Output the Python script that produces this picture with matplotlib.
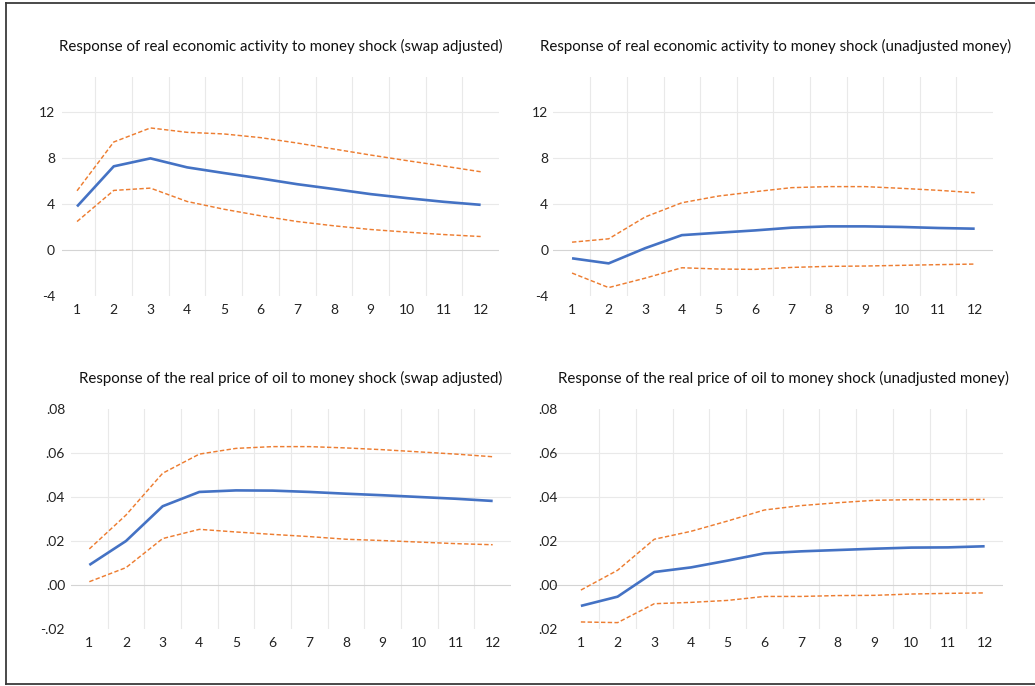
import matplotlib
matplotlib.use("Agg")
import matplotlib.pyplot as plt
import numpy as np
from matplotlib.lines import Line2D

plt.rcParams['font.family'] = ['Lato', 'DejaVu Sans']

# horizon (months)
periods = list(range(1, 13))

# real economic activity, swap adjusted
act_swap_mid = [3.77, 7.25, 7.94, 7.16, 6.67, 6.20, 5.70, 5.28, 4.84, 4.49, 4.17, 3.91]
act_swap_hi = [5.13, 9.36, 10.58, 10.20, 10.06, 9.74, 9.27, 8.75, 8.23, 7.74, 7.27, 6.78]
act_swap_lo = [2.46, 5.16, 5.36, 4.20, 3.53, 2.96, 2.46, 2.09, 1.77, 1.54, 1.33, 1.16]

# real economic activity, unadjusted money
act_unadj_mid = [-0.73, -1.17, 0.15, 1.28, 1.49, 1.69, 1.93, 2.04, 2.04, 1.99, 1.90, 1.84]
act_unadj_hi = [0.67, 0.96, 2.86, 4.09, 4.67, 5.05, 5.40, 5.49, 5.49, 5.34, 5.17, 4.96]
act_unadj_lo = [-2.01, -3.27, -2.45, -1.55, -1.66, -1.69, -1.52, -1.43, -1.40, -1.34, -1.28, -1.23]

# real price of oil, swap adjusted
oil_swap_mid = [0.0091, 0.0200, 0.0358, 0.0423, 0.0430, 0.0429, 0.0423, 0.0415, 0.0408, 0.0400, 0.0392, 0.0382]
oil_swap_hi = [0.0164, 0.0318, 0.0508, 0.0595, 0.0621, 0.0629, 0.0629, 0.0623, 0.0615, 0.0605, 0.0595, 0.0583]
oil_swap_lo = [0.0015, 0.0079, 0.0211, 0.0253, 0.0241, 0.0230, 0.0220, 0.0208, 0.0202, 0.0195, 0.0188, 0.0183]

# real price of oil, unadjusted money
oil_unadj_mid = [-0.0095, -0.0053, 0.0059, 0.0080, 0.0111, 0.0144, 0.0153, 0.0159, 0.0165, 0.0170, 0.0171, 0.0176]
oil_unadj_hi = [-0.0023, 0.0067, 0.0208, 0.0244, 0.0291, 0.0341, 0.0361, 0.0374, 0.0385, 0.0388, 0.0388, 0.0389]
oil_unadj_lo = [-0.0168, -0.0171, -0.0085, -0.0079, -0.0070, -0.0052, -0.0052, -0.0048, -0.0047, -0.0041, -0.0038, -0.0036]

act_ticks = [-4, 0, 4, 8, 12]
act_labels = ['-4', '0', '4', '8', '12']
oil_ticks = [-0.02, 0.0, 0.02, 0.04, 0.06, 0.08]
oil_labels = ['-.02', '.00', '.02', '.04', '.06', '.08']
oil_labels_cut = ['.02', '.00', '.02', '.04', '.06', '.08']

titles = [
    "Response of real economic activity to money shock (swap adjusted)",
    "Response of real economic activity to money shock (unadjusted money)",
    "Response of the real price of oil to money shock (swap adjusted)",
    "Response of the real price of oil to money shock (unadjusted money)",
]

BLUE = '#4472C4'
ORANGE = '#ED7D31'
GRID = '#E9E9E9'

W, H = 1035, 686
fig = plt.figure(figsize=(W / 100, H / 100), dpi=100)


def px_axes(x0, y0, x1, y1):
    # pixel box (top-left origin) -> figure axes
    return fig.add_axes([x0 / W, 1 - y1 / H, (x1 - x0) / W, (y1 - y0) / H])


def draw_panel(ax, mid, hi, lo, title, ticks, labels, ylim, xleft, ypad, title_x=0.5):
    ax.plot(periods, hi, color=ORANGE, lw=1.05, linestyle=(0, (3, 1.6)))
    ax.plot(periods, lo, color=ORANGE, lw=1.05, linestyle=(0, (3, 1.6)))
    ax.plot(periods, mid, color=BLUE, lw=1.9, solid_capstyle='butt')

    ax.set_xlim(xleft, 12.5)
    ax.set_ylim(*ylim)
    ax.set_xticks(periods)
    ax.set_xticklabels([str(p) for p in periods])
    ax.set_xticks(np.arange(1.5, 12, 1), minor=True)
    ax.set_yticks(ticks)
    ax.set_yticklabels(labels)

    for s in ax.spines.values():
        s.set_visible(False)
    ax.tick_params(which='both', length=0)
    ax.tick_params(axis='x', labelsize=10, pad=6, colors='#222222')
    ax.tick_params(axis='y', labelsize=10, pad=ypad, colors='#222222')

    ax.grid(axis='x', which='minor', color=GRID, lw=0.8)
    ax.grid(axis='y', which='major', color=GRID, lw=0.8)
    ax.set_axisbelow(True)

    # no gridline at the frame edges, zero line a bit darker
    for t, gl in zip(ticks, ax.yaxis.get_gridlines()):
        if t <= ylim[0] + 1e-9 or t >= ylim[1] - 1e-9:
            gl.set_visible(False)
        if t == 0:
            gl.set_color('#D4D4D4')

    ax.set_title(title, fontsize=10.8, pad=19, color='#111111', x=title_x)


ax1 = px_axes(62, 77, 499, 296)
draw_panel(ax1, act_swap_mid, act_swap_hi, act_swap_lo, titles[0],
           act_ticks, act_labels, (-4, 15.0), 0.59, 5)

ax2 = px_axes(553, 77, 993, 296)
draw_panel(ax2, act_unadj_mid, act_unadj_hi, act_unadj_lo, titles[1],
           act_ticks, act_labels, (-4, 15.0), 0.48, 3.5, title_x=0.505)

ax3 = px_axes(71, 409, 511, 629)
draw_panel(ax3, oil_swap_mid, oil_swap_hi, oil_swap_lo, titles[2],
           oil_ticks, oil_labels, (-0.02, 0.08), 0.5, 4.3)

ax4 = px_axes(553, 409, 1003, 629)
draw_panel(ax4, oil_unadj_mid, oil_unadj_hi, oil_unadj_lo, titles[3],
           oil_ticks, oil_labels_cut, (-0.02, 0.08), 0.24, -3, title_x=0.511)

# outer frame (left, top, bottom)
frame_kw = dict(color='#3a3a3a', lw=1.3, transform=fig.transFigure)
fig.add_artist(Line2D([5.5 / W, 5.5 / W], [1 - 2.5 / H, 1 - 684 / H], **frame_kw))
fig.add_artist(Line2D([5.5 / W, 1.0], [1 - 2.5 / H, 1 - 2.5 / H], **frame_kw))
fig.add_artist(Line2D([5.5 / W, 1.0], [1 - 684 / H, 1 - 684 / H], **frame_kw))

fig.savefig('out.png', dpi=100)
